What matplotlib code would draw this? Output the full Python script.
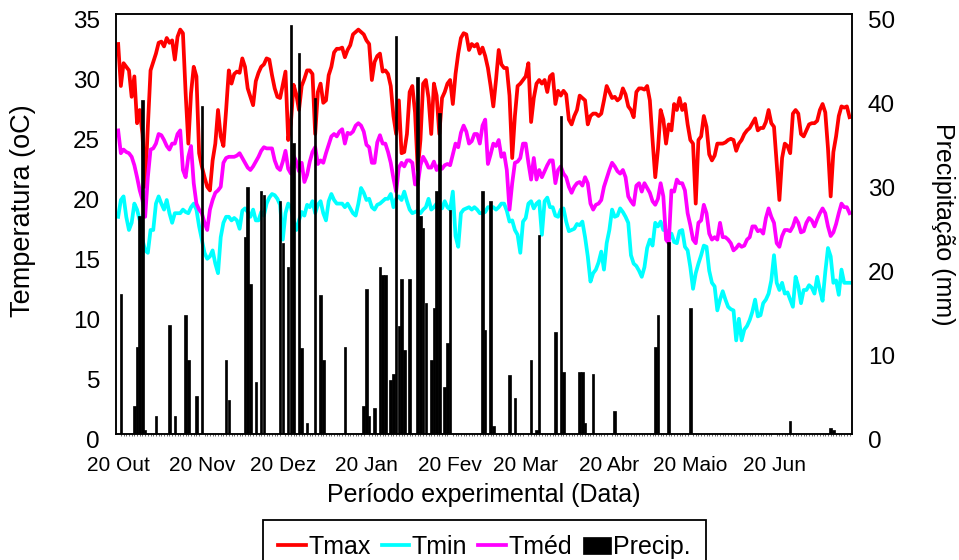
import numpy as np
import matplotlib
matplotlib.use("Agg")
import matplotlib.pyplot as plt
import matplotlib.transforms as mtransforms

plt.rcParams['font.family'] = ['Liberation Sans', 'DejaVu Sans']

# ── dados diários (dia 0 = 20 Out) ─────────────────────────
tmax = [
    32.5, 29.0, 30.9, 30.6, 30.3, 28.1, 29.8, 25.9, 27.0, 25.0,
    20.6, 25.6, 30.3, 31.0, 31.7, 32.6, 32.7, 32.3, 33.0, 32.6,
    32.8, 31.2, 33.1, 33.7, 33.4, 28.4, 24.2, 28.4, 30.6, 29.8,
    23.4, 22.3, 21.4, 20.6, 20.3, 22.8, 24.2, 27.0, 24.8, 24.0,
    27.0, 30.3, 29.2, 30.0, 30.2, 30.1, 31.3, 30.6, 28.8, 28.1,
    27.4, 29.4, 30.1, 30.6, 30.8, 31.3, 31.2, 29.9, 28.8, 28.1,
    28.0, 29.1, 30.2, 24.5, 25.9, 29.1, 28.3, 27.0, 29.0, 29.6,
    30.3, 30.3, 30.0, 25.0, 28.5, 29.2, 27.6, 27.8, 29.9, 30.6,
    31.8, 32.1, 32.1, 32.2, 31.4, 32.0, 32.4, 33.3, 33.5, 33.7,
    33.5, 33.3, 32.8, 32.5, 29.5, 31.0, 31.5, 31.7, 30.2, 30.3,
    30.0, 29.0, 26.5, 25.0, 27.8, 23.4, 23.5, 25.0, 28.5, 29.0,
    26.8, 22.0, 24.5, 29.2, 29.5, 28.0, 25.0, 29.2, 28.2, 25.0,
    28.0, 28.5, 29.2, 29.5, 27.5, 30.0, 31.7, 33.0, 33.4, 33.3,
    32.0, 32.5, 32.3, 32.5, 31.7, 32.2, 31.5, 30.5, 29.0, 27.3,
    29.5, 32.0, 30.8, 30.5, 30.5, 28.2, 23.0, 26.5, 29.0, 29.2,
    29.5, 29.8, 30.9, 26.0, 28.0, 29.2, 29.5, 29.2, 29.5, 28.5,
    29.8, 30.0, 27.5, 28.6, 28.2, 28.6, 28.3, 26.2, 25.8, 26.5,
    27.0, 28.2, 28.0, 27.8, 25.8, 26.5, 26.7, 26.7, 26.5, 26.7,
    27.8, 29.0, 28.5, 28.0, 28.1, 27.8, 28.0, 28.8, 28.3, 27.3,
    27.0, 26.4, 28.5, 28.8, 28.8, 28.7, 29.0, 27.8, 24.5, 21.4,
    23.7, 27.0, 26.2, 24.2, 25.8, 25.3, 27.5, 27.0, 28.0, 27.0,
    27.5, 25.8, 24.5, 24.2, 19.2, 24.5, 24.8, 26.5, 25.6, 23.3,
    22.8, 23.2, 24.2, 24.2, 24.2, 24.3, 24.5, 24.6, 24.5, 23.6,
    24.2, 24.5, 25.0, 25.3, 25.5, 25.9, 26.3, 25.3, 25.5, 25.5,
    26.0, 27.0, 25.9, 25.6, 22.6, 19.5, 23.0, 24.2, 24.0, 23.4,
    26.7, 27.0, 26.7, 25.0, 24.8, 25.3, 25.8, 25.9, 25.9, 26.1,
    27.0, 27.5, 26.8, 23.8, 19.8, 23.5, 24.8, 26.5, 27.3, 27.2,
    27.3, 26.4,
]

tmin = [
    18.1, 19.5, 19.8, 18.1, 17.0, 17.6, 19.2, 18.7, 17.8, 16.2,
    15.3, 15.1, 17.0, 17.0, 19.2, 19.8, 19.2, 18.7, 19.5, 18.4,
    17.6, 18.4, 18.4, 18.4, 18.7, 18.5, 18.4, 18.9, 19.2, 18.7,
    17.3, 16.2, 15.1, 14.6, 14.8, 15.3, 14.2, 13.4, 16.4, 17.6,
    18.1, 18.1, 17.8, 18.0, 17.8, 17.1, 18.6, 18.8, 18.5, 18.1,
    18.7, 17.8, 17.8, 18.5, 18.2, 19.2, 19.7, 20.0, 19.9, 19.6,
    19.1, 16.2, 18.4, 19.2, 18.9, 17.8, 17.0, 17.8, 18.5, 18.2,
    19.1, 18.9, 19.4, 18.4, 19.1, 19.4, 18.4, 17.8, 19.4, 20.0,
    19.5, 19.2, 19.2, 19.2, 18.9, 19.2, 18.8, 18.4, 18.2, 19.2,
    20.5, 20.1, 19.5, 19.6, 18.9, 18.7, 19.1, 19.2, 19.4, 19.6,
    19.6, 20.0, 18.9, 19.6, 19.8, 19.5, 20.2, 19.4, 18.7, 18.4,
    18.5, 18.6, 18.4, 18.7, 18.9, 19.6, 18.7, 18.9, 19.2, 18.8,
    18.8, 19.4, 18.9, 18.7, 20.2, 16.5, 15.6, 18.4, 18.7, 18.8,
    18.9, 18.7, 18.9, 18.7, 18.4, 18.4, 18.5, 18.9, 18.9, 18.9,
    18.7, 18.9, 19.2, 19.2, 18.6, 17.7, 17.8, 17.0, 16.6, 15.1,
    17.7, 18.0, 19.2, 19.4, 18.8, 19.2, 19.4, 16.6, 19.4, 19.7,
    18.9, 18.9, 18.2, 18.1, 18.7, 18.8, 17.7, 16.9, 17.0, 17.1,
    17.5, 17.4, 17.7, 16.4, 14.8, 12.7, 13.4, 13.7, 14.3, 15.2,
    13.7, 15.9, 17.0, 18.7, 18.1, 18.2, 18.8, 18.5, 18.1, 17.6,
    14.9, 14.2, 14.0, 13.6, 13.1, 13.9, 15.5, 16.2, 15.7, 17.6,
    17.3, 17.7, 17.0, 17.0, 16.2, 16.7, 16.0, 15.9, 16.9, 17.0,
    15.6, 15.3, 13.9, 12.1, 13.4, 14.2, 14.9, 15.7, 15.6, 13.6,
    12.6, 12.3, 10.3, 11.2, 11.9, 11.2, 10.6, 10.4, 10.3, 7.8,
    9.6, 7.8, 8.7, 9.0, 9.5, 10.2, 11.2, 9.8, 9.9, 10.9,
    11.2, 11.7, 12.8, 14.9, 12.6, 12.0, 12.6, 11.7, 11.8, 11.2,
    10.6, 13.1, 12.3, 10.9, 12.0, 12.0, 12.4, 12.2, 11.7, 13.1,
    12.0, 11.1, 13.5, 15.5, 14.8, 12.6, 12.8, 11.6, 13.7, 12.6,
    12.6, 12.6,
]

tmed = [
    25.3, 23.4, 23.7, 23.5, 23.4, 23.1, 22.4, 21.4, 20.3, 19.5,
    18.1, 21.4, 23.7, 23.8, 24.2, 25.0, 24.9, 24.5, 24.0, 23.7,
    24.2, 24.2, 25.0, 25.3, 22.0, 21.4, 23.1, 24.0, 20.9, 19.2,
    18.7, 18.4, 17.6, 17.0, 18.7, 19.5, 20.1, 20.3, 20.6, 22.6,
    23.0, 23.1, 23.1, 23.1, 23.2, 23.4, 23.0, 22.6, 22.2, 22.0,
    22.3, 22.7, 23.1, 23.6, 23.9, 23.8, 23.8, 23.8, 22.8, 22.2,
    22.0, 22.7, 23.6, 22.1, 21.7, 23.2, 22.7, 21.9, 22.6, 21.0,
    21.6, 22.7, 23.5, 23.9, 22.5, 22.8, 22.6, 23.4, 24.1, 24.8,
    25.0, 24.8, 25.2, 25.4, 24.2, 25.1, 25.0, 25.2, 25.7, 25.9,
    25.7, 25.2, 24.1, 23.9, 22.6, 22.6, 24.3, 24.9, 24.2, 24.2,
    23.5, 22.6, 21.3, 20.2, 22.2, 22.6, 22.3, 22.8, 22.8, 22.6,
    20.8, 20.8, 22.4, 23.1, 22.7, 22.2, 22.2, 22.7, 22.0, 22.4,
    22.1, 22.4, 22.5, 22.4, 23.3, 24.2, 23.9, 25.1, 25.7, 25.2,
    24.2, 24.4, 25.0, 25.0, 24.2, 25.7, 26.2, 22.5, 23.3, 24.2,
    24.0, 24.5, 23.1, 23.4, 22.0, 18.7, 20.9, 22.6, 22.7, 23.0,
    24.2, 24.2, 22.6, 21.2, 23.0, 21.2, 22.0, 21.4, 21.9, 22.4,
    22.8, 22.8, 20.9, 22.0, 22.3, 21.7, 21.4, 20.6, 20.1, 20.6,
    20.9, 21.0, 20.7, 21.4, 20.9, 19.2, 18.7, 19.1, 19.2, 19.5,
    20.6, 21.3, 22.0, 22.6, 22.3, 21.9, 21.7, 22.0, 21.4, 19.8,
    19.4, 19.1, 20.7, 20.9, 20.2, 20.9, 20.5, 20.1, 19.4, 19.1,
    19.6, 20.9, 19.8, 16.2, 15.9, 20.3, 20.2, 21.2, 20.9, 20.9,
    20.3, 18.4, 17.4, 16.2, 15.9, 17.6, 17.8, 19.1, 18.4, 16.7,
    16.2, 16.4, 16.2, 17.6, 16.4, 16.4, 16.2, 15.9, 15.3, 15.5,
    15.8, 15.6, 15.7, 16.2, 16.4, 17.3, 17.3, 16.9, 17.0, 16.7,
    18.0, 18.8, 18.1, 17.6, 15.9, 15.6, 16.5, 17.0, 17.0, 16.9,
    17.3, 18.0, 17.6, 16.8, 16.9, 17.6, 18.0, 17.8, 17.3, 17.9,
    18.4, 18.8, 18.4, 17.3, 16.5, 16.8, 17.5, 18.4, 19.2, 18.9,
    18.9, 18.4,
]

# precipitação: só os dias com chuva
rain_day = [1, 6, 7, 8, 9, 10, 14, 19, 21, 25, 26, 29, 31, 40, 41,
            47, 48, 49, 51, 53, 54, 60, 61, 63, 64, 65, 67, 68, 70, 73,
            75, 76, 84, 91, 92, 93, 95, 97, 98, 99, 101, 102, 103, 104,
            105, 106, 108, 111, 112, 113, 114, 116, 117, 118, 119, 121,
            122, 123, 135, 136, 138, 139, 145, 147, 153, 155, 156, 162,
            164, 165, 171, 172, 173, 176, 184, 199, 200, 204, 212, 249,
            264, 265]
rain_mm = [16.7, 3.3, 10.4, 25.9, 39.8, 0.5, 2.1, 13.0, 2.1, 14.2, 8.8,
           4.5, 39.0, 8.8, 4.1,
           23.5, 29.4, 17.9, 6.2, 28.9, 28.5, 27.7, 22.7, 19.9, 48.7,
           34.6, 45.3, 10.2, 1.3, 40.0,
           16.5, 8.8, 10.4, 3.3, 17.3, 2.1, 3.1, 19.9, 18.9, 18.9, 6.4,
           7.2, 47.4, 12.8,
           18.5, 10.0, 18.5, 42.5, 25.9, 24.5, 15.6, 8.8, 15.0, 28.9,
           38.2, 5.6,
           10.8, 26.7, 28.9, 12.4, 27.7, 0.9, 7.0, 4.3, 8.8, 0.5, 23.7,
           12.2,
           37.9, 7.4, 7.4, 7.4, 1.3, 7.2, 2.7, 10.4, 14.2, 22.9, 15.0,
           1.5,
           0.7, 0.5]

xtick_days = [0, 31, 61, 92, 123, 151, 182, 212, 243]
xtick_labels = ['20 Out', '20 Nov', '20 Dez', '20 Jan', '20 Fev',
                '20 Mar', '20 Abr', '20 Maio', '20 Jun']

# ── figura ─────────────────────────────────────────────────
W, H = 959, 560
fig = plt.figure(figsize=(W / 100, H / 100), dpi=100, facecolor='white')
ax = fig.add_axes([116 / W, 1 - 434 / H, 736 / W, 420 / H])

dias = np.arange(len(tmax))
ax.plot(dias, tmax, color='#ff0000', lw=2.7, label='Tmax')
ax.plot(dias, tmin, color='#00ffff', lw=2.7, label='Tmin')
ax.plot(dias, tmed, color='#ff00ff', lw=2.7, label='Tméd')

ax.set_xlim(-0.8, 271.9)
ax.set_ylim(0, 35)
ax.set_yticks(range(0, 36, 5))
ax.set_xticks(xtick_days)
ax.set_xticklabels(xtick_labels)
ax.set_xticks(dias, minor=True)
ax.tick_params(axis='x', which='major', length=0, pad=15.5, labelsize=15)
ax.tick_params(axis='x', which='minor', direction='out', length=1.5,
               width=0.6, color='#555555')
ax.tick_params(axis='y', length=0, pad=11.5, labelsize=17.5)

ax2 = ax.twinx()
ax2.bar(rain_day, rain_mm, width=0.95, color='black', edgecolor='black',
        linewidth=0.5, label='Precip.')
ax2.set_ylim(0, 50)
ax2.set_yticks(range(0, 51, 10))
ax2.tick_params(axis='y', length=0, pad=11.5, labelsize=17.5)

for a in (ax, ax2):
    for sp in a.spines.values():
        sp.set_color('black')
        sp.set_linewidth(1.1)

# rótulos dos eixos y um pouco abaixo do tick (estilo Excel)
off = mtransforms.ScaledTranslation(0, -6 / 100, fig.dpi_scale_trans)
for lab in ax.get_yticklabels() + ax2.get_yticklabels():
    lab.set_transform(lab.get_transform() + off)

fig.text(23 / W, 1 - 211 / H, 'Temperatura (oC)', rotation=90,
         ha='center', va='center', fontsize=19.5)
fig.text(943 / W, 1 - 224 / H, 'Precipitação (mm)', rotation=270,
         ha='center', va='center', fontsize=18)
fig.text(484 / W, 1 - 495 / H, 'Período experimental (Data)',
         ha='center', va='center', fontsize=18)

h1, l1 = ax.get_legend_handles_labels()
h2, l2 = ax2.get_legend_handles_labels()
leg = fig.legend(h1 + h2, l1 + l2, loc='upper center',
                 bbox_to_anchor=(484.5 / W, 1 - 520 / H), ncol=4, fontsize=18,
                 frameon=True, fancybox=False, edgecolor='black', framealpha=1,
                 handlelength=1.1, handletextpad=0.1, columnspacing=0.45,
                 borderpad=0.6, borderaxespad=0)
leg.get_frame().set_linewidth(1.3)

fig.savefig('out.png', dpi=100, facecolor='white')
plt.close(fig)
